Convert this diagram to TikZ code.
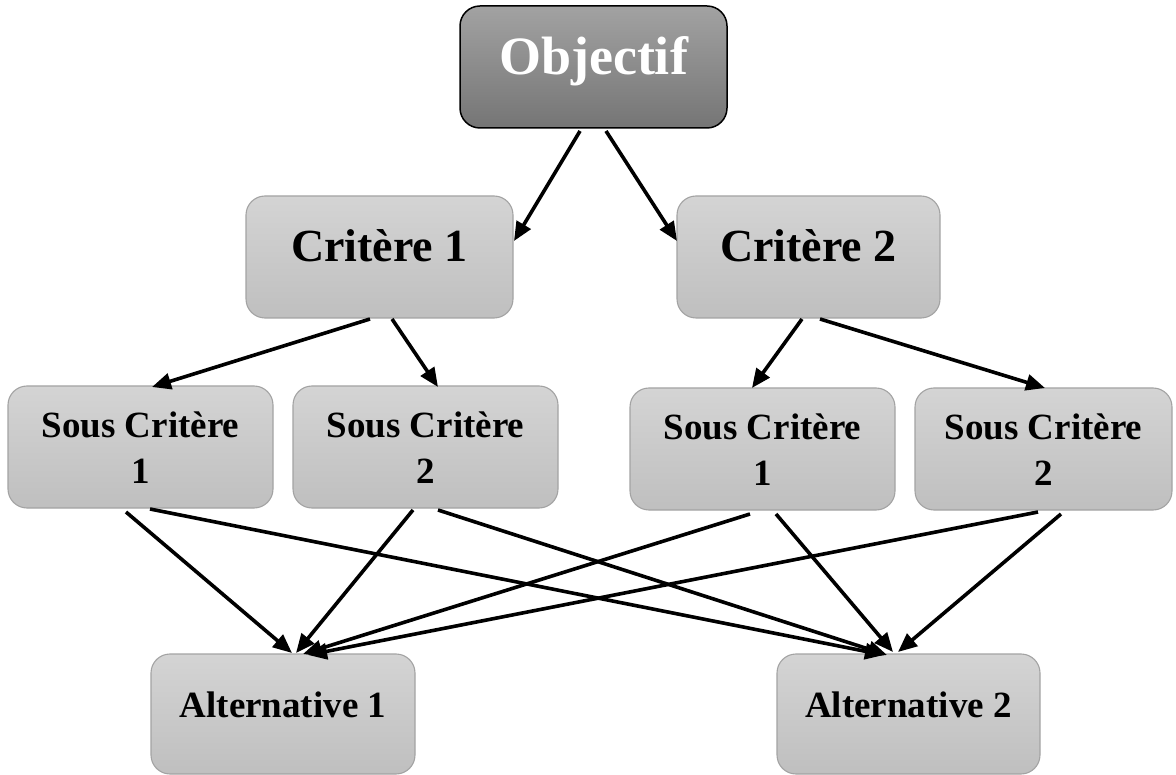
\documentclass[tikz,border=0pt]{standalone}
\usepackage{fontspec}
\setmainfont{Liberation Serif}
\usetikzlibrary{arrows.meta,calc}
\definecolor{lbtop}{HTML}{D4D4D4}
\definecolor{lbbot}{HTML}{BFBFBF}
\definecolor{lbline}{HTML}{A3A3A3}
\definecolor{dbtop}{HTML}{A2A2A2}
\definecolor{dbbot}{HTML}{757575}
\begin{document}
\begin{tikzpicture}[x=1pt,y=-1pt,
  lbox/.style={draw=lbline,line width=1.1pt,rounded corners=19pt,top color=lbtop,bottom color=lbbot,
    minimum height=122pt,inner sep=0pt,outer sep=0pt},
  dbox/.style={draw=black,line width=1.5pt,rounded corners=20pt,top color=dbtop,bottom color=dbbot,
    minimum height=122pt,inner sep=0pt,outer sep=0pt},
  txt/.style={inner sep=0pt,font=\bfseries},
  arr/.style={line width=3.6pt,-{Triangle[length=19pt,width=16pt]}}
]
\useasboundingbox (0,0) rectangle (1176,775);
% boxes
\node[dbox,minimum width=267pt] (obj) at (593.5,67) {};
\node[lbox,minimum width=267pt] (c1) at (379.5,257) {};
\node[lbox,minimum width=263pt] (c2) at (808.5,257) {};
\node[lbox,minimum width=265pt] (s1) at (140.5,447) {};
\node[lbox,minimum width=265pt] (s2) at (425.5,447) {};
\node[lbox,minimum width=265pt] (s3) at (762.5,449) {};
\node[lbox,minimum width=257pt] (s4) at (1043.5,449) {};
\node[lbox,minimum width=264pt,minimum height=120pt] (a1) at (283,714) {};
\node[lbox,minimum width=263pt,minimum height=120pt] (a2) at (908.5,714) {};
% texts
\node[txt,anchor=base,text=white,font=\bfseries\fontsize{54}{60}\selectfont] (objt) at (593.5,75) {Objectif};
\node[txt,anchor=base,font=\bfseries\fontsize{46}{54}\selectfont] (c1t) at (379.5,262) {Critère 1};
\node[txt,anchor=base,font=\bfseries\fontsize{46}{54}\selectfont] (c2t) at (808.5,262) {Critère 2};
\node[txt,align=center,font=\bfseries\fontsize{37}{46}\selectfont] (s1t) at (140.5,448) {Sous Critère\\1};
\node[txt,align=center,font=\bfseries\fontsize{37}{46}\selectfont] (s2t) at (425.5,448) {Sous Critère\\2};
\node[txt,align=center,font=\bfseries\fontsize{37}{46}\selectfont] (s3t) at (762.5,450) {Sous Critère\\1};
\node[txt,align=center,font=\bfseries\fontsize{37}{46}\selectfont] (s4t) at (1043.5,450) {Sous Critère\\2};
\node[txt,anchor=base,font=\bfseries\fontsize{37}{44}\selectfont] (a1t) at (283,717) {Alternative 1};
\node[txt,anchor=base,font=\bfseries\fontsize{37}{44}\selectfont] (a2t) at (908.5,717) {Alternative 2};
% arrows
\draw[arr] ($(obj.south west)+(120,3)$) -- ($(c1.north west)+(268,45)$);
\draw[arr] ($(obj.south west)+(146,3)$) -- ($(c2.north west)+(0,45)$);
\draw[arr] ($(c1.south west)+(124,1)$) -- ($(s1.north west)+(144,1)$);
\draw[arr] ($(c1.south west)+(146,1)$) -- ($(s2.north west)+(145,1)$);
\draw[arr] ($(c2.south west)+(125,1)$) -- ($(s3.north west)+(122,0)$);
\draw[arr] ($(c2.south west)+(143,1)$) -- ($(s4.north west)+(130,0)$);
\draw[arr] ($(s1.south west)+(118,4)$) -- ($(a1.north west)+(141,-1)$);
\draw[arr] ($(s1.south west)+(142,1)$) -- ($(a2.north west)+(107,1)$);
\draw[arr] ($(s2.south west)+(120,2)$) -- ($(a1.north west)+(145,-1)$);
\draw[arr] ($(s2.south west)+(145,2)$) -- ($(a2.north west)+(110,1)$);
\draw[arr] ($(s3.south west)+(120,4)$) -- ($(a1.north west)+(152,0)$);
\draw[arr] ($(s3.south west)+(146,4)$) -- ($(a2.north west)+(116,-2)$);
\draw[arr] ($(s4.south west)+(123,2)$) -- ($(a1.north west)+(157,1)$);
\draw[arr] ($(s4.south west)+(146,4)$) -- ($(a2.north west)+(121,-2)$);
\end{tikzpicture}
\end{document}
